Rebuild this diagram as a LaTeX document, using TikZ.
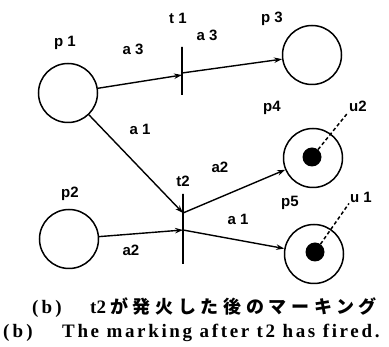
\documentclass[tikz,border=0pt]{standalone}
\usepackage{fontspec}
\setmainfont{Liberation Serif}
\setsansfont{Liberation Sans}
\newfontfamily\cjk{Noto Sans CJK JP}
\usetikzlibrary{arrows.meta,calc}

\begin{document}
\begin{tikzpicture}[x=1pt,y=-1pt,font=\sffamily\bfseries\fontsize{15}{16}\selectfont,
  place/.style={circle,draw,line width=1.5pt,minimum size=59pt,inner sep=0pt},
  bar/.style={draw,line width=1.5pt,minimum width=0pt,inner sep=0pt},
  token/.style={circle,fill=black,minimum size=19pt,inner sep=0pt},
  arc/.style={line width=1.4pt,-{Stealth[length=8pt,width=5.5pt]}},
  lbl/.style={inner sep=1pt},
  captext/.style={anchor=base west,inner sep=0pt,font=\bfseries\fontsize{19}{20}\selectfont}]
  \useasboundingbox (0,0) rectangle (389,347);
  % places
  \node[place] (p1) at (68,93) {};
  \node[place] (p2) at (69,239) {};
  \node[place] (p3) at (312,55) {};
  \node[place] (p4) at (313,158) {};
  \node[place] (p5) at (314,254) {};
  \node[token] (d4) at (312,157) {};
  \node[token] (d5) at (315,252) {};
  % transitions
  \node[bar,minimum height=48pt] (t1) at (182,71) {};
  \node[bar,minimum height=70pt] (t2) at (183,229) {};
  \coordinate (t1i) at (182,75);
  \coordinate (t1o) at (182,73);
  \coordinate (t2u) at (183,213);
  \coordinate (t2d) at (183,230);
  % arcs
  \draw[arc] (p1) -- (t1i);
  \draw[arc] (t1o) -- (p3);
  \draw[arc] (p1) -- (t2u);
  \draw[arc] (t2u) -- (p4);
  \draw[arc] (p2) -- (t2d);
  \draw[arc] (t2d) -- (p5);
  % labels
  \node[lbl] (lp1) at (65,43) {p 1};
  \node[lbl] (lp2) at (70,194) {p2};
  \node[lbl] (lp3) at (272,19) {p 3};
  \node[lbl] (lp4) at (272,108) {p4};
  \node[lbl] (lp5) at (290,203) {p5};
  \node[lbl] (lt1) at (178,18) {t 1};
  \node[lbl] (lt2) at (183,181) {t2};
  \node[lbl] (la3a) at (133,49) {a 3};
  \node[lbl] (la3b) at (207,35) {a 3};
  \node[lbl] (la1a) at (140,129) {a 1};
  \node[lbl] (la2a) at (220,167) {a2};
  \node[lbl] (la1b) at (238,219) {a 1};
  \node[lbl] (la2b) at (131,250) {a2};
  \node[lbl] (lu2) at (358,106) {u2};
  \node[lbl] (lu1) at (361,197) {u 1};
  \draw[line width=1.5pt,dash pattern=on 3.5pt off 2.5pt] (d4) -- (lu2.south west);
  \draw[line width=1.5pt,dash pattern=on 3.5pt off 2.5pt] (d5) -- (lu1.south west);
  % caption
  \node[captext] (c1b) at (32,314) {\addfontfeature{LetterSpace=8}(\,b\,)};
  \node[captext] (c1) at (90,314) {t2\hspace{4pt}{\cjk\fontsize{18}{19}\selectfont\addfontfeature{LetterSpace=26}が発火した後のマーキング}};
  \node[captext] (c2b) at (3,338) {\addfontfeature{LetterSpace=8}(\,b\,)};
  \node[captext] (c2) at (62,338) {\addfontfeature{LetterSpace=14}The marking after t2 has fired.};
\end{tikzpicture}
\end{document}
